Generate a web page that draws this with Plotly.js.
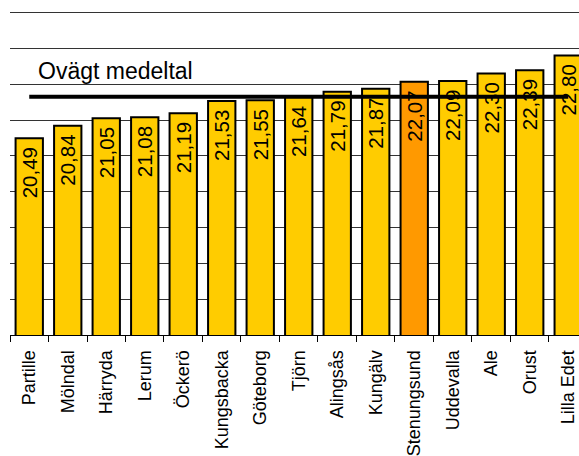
<!DOCTYPE html>
<html>
<head>
<meta charset="utf-8">
<script src="https://cdn.plot.ly/plotly-3.0.1.min.js"></script>
<style>html,body{margin:0;padding:0;background:#fff;}#chart{width:579px;height:456px;}</style>
</head>
<body>
<div id="chart"></div>
<script>
var categories = ['Partille','Mölndal','Härryda','Lerum','Öckerö','Kungsbacka','Göteborg','Tjörn','Alingsås','Kungälv','Stenungsund','Uddevalla','Ale','Orust','Lilla Edet'];
var values = [20.49,20.84,21.05,21.08,21.19,21.53,21.55,21.64,21.79,21.87,22.07,22.09,22.30,22.39,22.80];
var highlighted = ['Stenungsund'];
var meanValue = [21.65];
var meanLabel = ['Ovägt medeltal'];

var FONT = 'Arial, "Liberation Sans", sans-serif';

var barTrace = {
  type: 'bar',
  x: categories,
  y: values,
  marker: {
    color: categories.map(function(c){ return highlighted.indexOf(c) >= 0 ? '#FF9900' : '#FFCC00'; }),
    line: {color: '#000000', width: 2}
  },
  texttemplate: '%{y:.2f}\u00a0',
  textposition: 'inside',
  insidetextanchor: 'end',
  textangle: -90,
  constraintext: 'none',
  textfont: {family: FONT, size: 20.5, color: '#000000'},
  hoverinfo: 'none',
  showlegend: false
};

var meanTrace = {
  type: 'scatter',
  mode: 'lines',
  x: [categories[0], categories[categories.length - 1]],
  y: [meanValue[0], meanValue[0]],
  line: {color: '#000000', width: 4},
  hoverinfo: 'none',
  showlegend: false
};

var layout = {
  width: 579,
  height: 456,
  margin: {l: 10, r: 0, t: 10, b: 121, pad: 0},
  paper_bgcolor: '#ffffff',
  plot_bgcolor: '#ffffff',
  separators: ',.',
  bargap: 0.29,
  showlegend: false,
  font: {family: FONT, color: '#000000'},
  xaxis: {
    type: 'category',
    range: [-0.5, 14.28],
    showline: true,
    linecolor: '#000000',
    linewidth: 1,
    ticks: 'outside',
    tickson: 'boundaries',
    ticklen: 6,
    tickcolor: '#000000',
    tickwidth: 1,
    tickangle: -90,
    ticklabelstandoff: 7,
    tickfont: {family: FONT, size: 18, color: '#000000'},
    showgrid: false,
    zeroline: false,
    fixedrange: true
  },
  yaxis: {
    range: [15, 24.07],
    dtick: 1,
    tick0: 15,
    showticklabels: false,
    ticks: '',
    showgrid: true,
    gridcolor: '#333333',
    gridwidth: 1,
    showline: false,
    zeroline: false,
    fixedrange: true
  },
  annotations: [{
    text: meanLabel[0],
    xref: 'paper',
    yref: 'paper',
    x: 0.045,
    y: 0.812,
    xanchor: 'left',
    yanchor: 'middle',
    showarrow: false,
    font: {family: FONT, size: 23, color: '#000000'}
  }]
};

Plotly.newPlot('chart', [barTrace, meanTrace], layout, {displayModeBar: false, staticPlot: true});
</script>
</body>
</html>
